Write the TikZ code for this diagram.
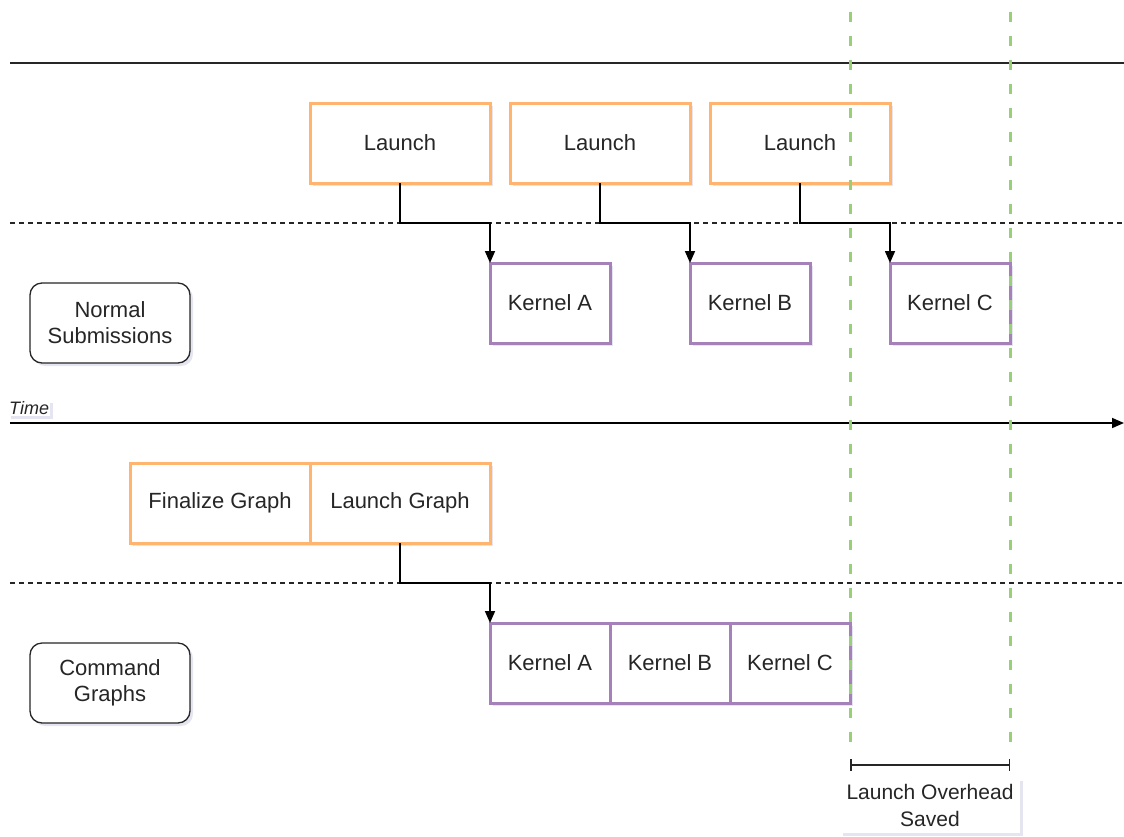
\documentclass[tikz,border=0pt]{standalone}
\usepackage{fontspec}
\setmainfont{Liberation Sans}
\usetikzlibrary{positioning,arrows.meta,shadows}
\definecolor{launchorange}{RGB}{255,181,112}
\definecolor{kernelpurple}{RGB}{166,128,184}
\definecolor{savedgreen}{RGB}{151,208,119}
\definecolor{shadowblue}{RGB}{150,150,200}

\tikzset{
  soft shadow/.style={drop shadow={shadow xshift=3pt,shadow yshift=-3pt,opacity=0.25,fill=shadowblue}},
  launchbox/.style={draw=launchorange, line width=3pt, fill=white, outer sep=0pt,
    minimum width=180pt, minimum height=80pt, soft shadow},
  kernelbox/.style={draw=kernelpurple, line width=3pt, fill=white, outer sep=0pt,
    minimum width=120pt, minimum height=80pt, soft shadow},
  lanebox/.style={draw=black!85, line width=1.3pt, rounded corners=12pt, fill=white,
    minimum width=160pt, minimum height=80pt, align=center, soft shadow},
  lane/.style={black!85, line width=1.3pt, dash pattern=on 5pt off 4pt},
  arr/.style={-{Triangle[length=12pt,width=10pt]}, line width=1.6pt, black},
  marker/.style={savedgreen, line width=3pt, dash pattern=on 10pt off 14pt}
}

\begin{document}
\begin{tikzpicture}[x=1pt,y=-1pt,font=\fontsize{22}{26}\selectfont,text=black!85]
    \useasboundingbox (0,0) rectangle (1124,836);
    % lanes
    \draw[black!85, line width=1.8pt] (10,63) -- (1124,63);
    \draw[lane] (10,223) -- (1124,223);
    \draw[lane] (10,583) -- (1124,583);
    \draw[black, line width=1.6pt, -{Triangle[length=12pt,width=10pt]}] (10,423) -- (1124,423);
    \node[fill=white, inner sep=1pt, anchor=west, soft shadow,
      font=\fontsize{18}{20}\selectfont\itshape] (time) at (8,408) {Time};
    % normal submissions
    \node[lanebox] (normal) at (110,323) {Normal\\Submissions};
    \foreach \k [count=\i from 0] in {A,B,C}{
      \node[launchbox] (launch\k) at ({400+200*\i},143) {Launch};
      \node[kernelbox] (kern\k) at ({550+200*\i},303) {Kernel \k};
      \draw[arr] (launch\k.south) -- ++(0,40) -| (kern\k.north west);
    }
    % command graphs
    \node[lanebox] (command) at (110,683) {Command\\Graphs};
    \node[launchbox] (finalize) at (220,503) {Finalize Graph};
    \node[launchbox, right=0pt of finalize] (launchgraph) {Launch Graph};
    \node[kernelbox] (graphA) at (550,663) {Kernel A};
    \node[kernelbox, right=0pt of graphA] (graphB) {Kernel B};
    \node[kernelbox, right=0pt of graphB] (graphC) {Kernel C};
    \draw[arr] (launchgraph.south) -- ++(0,40) -| (graphA.north west);
    % saved overhead
    \coordinate (savedL) at (850,765);
    \coordinate (savedR) at (1010,765);
    \draw[marker] (850,12) -- (850,752);
    \draw[marker] (1010,12) -- (1010,752);
    \draw[black!85, line width=1.5pt, {Bar[width=12pt]}-{Bar[width=12pt]}] (savedL) -- (savedR);
    \node[fill=white, align=center, minimum width=180pt, minimum height=55pt, inner sep=2pt,
      soft shadow, font=\fontsize{21}{27}\selectfont] (saved) at (930,805) {Launch Overhead\\Saved};
\end{tikzpicture}
\end{document}
